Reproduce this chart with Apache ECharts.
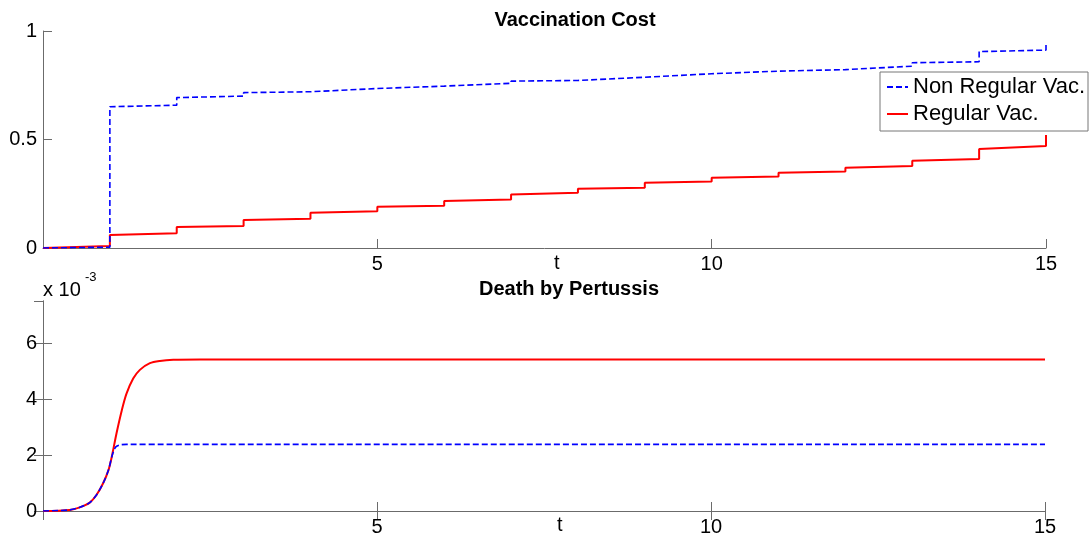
<!DOCTYPE html>
<html>
<head>
<meta charset="utf-8">
<script src="https://cdn.jsdelivr.net/npm/echarts@6/dist/echarts.min.js"></script>
<style>
  html, body { margin: 0; padding: 0; background: #fff; }
  #chart { width: 1090px; height: 542px; }
</style>
</head>
<body>
<div id="chart"></div>
<script>
// vaccination cost: value just before / just after the yearly jump at t = 1..15
var years = [1, 2, 3, 4, 5, 6, 7, 8, 9, 10, 11, 12, 13, 14, 15]
var nonRegBefore = [0.004, 0.658, 0.700, 0.720, 0.735, 0.746, 0.759, 0.772, 0.787, 0.803, 0.815, 0.822, 0.838, 0.858, 0.912]
var nonRegAfter = [0.651, 0.693, 0.716, 0.728, 0.740, 0.751, 0.769, 0.779, 0.795, 0.811, 0.820, 0.830, 0.854, 0.905, 0.943]
var regBefore = [0.009, 0.068, 0.101, 0.135, 0.169, 0.195, 0.223, 0.255, 0.278, 0.306, 0.329, 0.352, 0.378, 0.410, 0.470]
var regAfter = [0.060, 0.097, 0.129, 0.163, 0.190, 0.217, 0.247, 0.273, 0.301, 0.324, 0.347, 0.370, 0.402, 0.456, 0.521]

// death by pertussis (x 10^-3)
var tReg = [0, 0.40, 0.55, 0.70, 0.80, 0.90, 0.98, 1.03, 1.10, 1.18, 1.25, 1.35, 1.45, 1.60, 1.75, 1.95, 2.35, 15]
var deathReg = [0, 0.04, 0.13, 0.30, 0.57, 0.99, 1.46, 1.94, 2.77, 3.60, 4.19, 4.73, 5.04, 5.28, 5.36, 5.40, 5.41, 5.41]
var tNonReg = [0, 0.40, 0.55, 0.70, 0.80, 0.90, 0.98, 1.03, 1.06, 1.09, 1.15, 1.25, 15]
var deathNonReg = [0, 0.04, 0.13, 0.30, 0.57, 0.99, 1.46, 1.94, 2.15, 2.29, 2.36, 2.38, 2.38]

var axisColor = '#6b6b6b'
var font = 'Liberation Sans, Arial, Helvetica, sans-serif'

function steps (before, after) {
  var out = [[0, 0]]
  for (let i = 0; i < years.length; i++) {
    out.push([years[i], before[i]])
    out.push([years[i], after[i]])
  }
  return out
}

function pairs (xs, ys) {
  let out = []
  for (let i = 0; i < xs.length; i++) {
    out.push([xs[i], ys[i]])
  }
  return out
}

function xAx (grid, pos, labels) {
  return {
    type: 'value',
    gridIndex: grid,
    position: pos,
    min: 0,
    max: 15,
    interval: 5,
    axisLine: { show: true, lineStyle: { color: axisColor, width: 1 } },
    axisTick: { show: true, inside: true, length: 9, lineStyle: { color: axisColor } },
    axisLabel: { show: labels, showMinLabel: false, color: '#000', fontSize: 20, fontFamily: font, margin: 6 },
    splitLine: { show: false }
  }
}

var myChart = echarts.init(document.getElementById('chart'))

var options = {
  animation: false,
  title: [
    { text: 'Vaccination Cost', left: 570, top: 5, textAlign: 'center',
      textStyle: { fontSize: 20, fontWeight: 'bold', color: '#000', fontFamily: font } },
    { text: 'Death by Pertussis', left: 564, top: 274, textAlign: 'center',
      textStyle: { fontSize: 20, fontWeight: 'bold', color: '#000', fontFamily: font } }
  ],
  legend: {
    data: ['Non Regular Vac.', 'Regular Vac.'],
    orient: 'vertical',
    left: 880,
    top: 72,
    padding: [4, 3, 6, 6],
    itemGap: 5,
    itemWidth: 21,
    itemHeight: 12,
    backgroundColor: '#fff',
    borderColor: '#777',
    borderWidth: 1,
    itemStyle: { opacity: 0 },
    textStyle: { fontSize: 22, color: '#000', fontFamily: font }
  },
  grid: [
    { left: 43, right: 44, top: 31, height: 217 },
    { left: 43, right: 45, top: 301, height: 210 }
  ],
  xAxis: [
    xAx(0, 'bottom', true),
    xAx(1, 'bottom', true),
    xAx(1, 'top', false)
  ],
  yAxis: [
    {
      type: 'value', gridIndex: 0, position: 'left', min: 0, max: 1, interval: 0.5,
      axisLine: { show: true, lineStyle: { color: axisColor } },
      axisTick: { show: true, inside: true, length: 9, lineStyle: { color: axisColor } },
      axisLabel: { color: '#000', fontSize: 20, fontFamily: font, margin: 6 },
      splitLine: { show: false }
    },
    {
      type: 'value', gridIndex: 1, position: 'left', min: 0, max: 7.5, interval: 2,
      axisLine: { show: true, lineStyle: { color: axisColor } },
      axisTick: { show: true, inside: true, length: 9, lineStyle: { color: axisColor } },
      axisLabel: { color: '#000', fontSize: 20, fontFamily: font, margin: 6, showMaxLabel: false },
      splitLine: { show: false }
    },
    {
      type: 'value', gridIndex: 1, position: 'right', min: 0, max: 7.5, interval: 2,
      axisLine: { show: true, lineStyle: { color: axisColor } },
      axisTick: { show: true, inside: true, length: 9, lineStyle: { color: axisColor } },
      axisLabel: { show: false },
      splitLine: { show: false }
    }
  ],
  graphic: [
    { type: 'text', left: 554, top: 253, style: { text: 't', fontSize: 20, fontFamily: font, fill: '#000' } },
    { type: 'text', left: 557, top: 515, style: { text: 't', fontSize: 20, fontFamily: font, fill: '#000' } },
    { type: 'text', left: 43, top: 280, style: { text: 'x 10', fontSize: 20, fontFamily: font, fill: '#000' } },
    { type: 'text', left: 85, top: 271, style: { text: '-3', fontSize: 13, fontFamily: font, fill: '#000' } }
  ],
  series: [
    {
      name: 'Non Regular Vac.', type: 'line', xAxisIndex: 0, yAxisIndex: 0,
      symbol: 'none', z: 3,
      lineStyle: { color: '#0000ff', width: 1.6, type: [6, 3] },
      itemStyle: { color: '#0000ff' },
      data: steps(nonRegBefore, nonRegAfter)
    },
    {
      name: 'Regular Vac.', type: 'line', xAxisIndex: 0, yAxisIndex: 0,
      symbol: 'none', z: 2,
      lineStyle: { color: '#ff0000', width: 2 },
      itemStyle: { color: '#ff0000' },
      data: steps(regBefore, regAfter)
    },
    {
      name: 'Regular Vac.', type: 'line', xAxisIndex: 1, yAxisIndex: 1,
      symbol: 'none', smooth: 0.3, z: 2,
      lineStyle: { color: '#ff0000', width: 2 },
      itemStyle: { color: '#ff0000' },
      data: pairs(tReg, deathReg)
    },
    {
      name: 'Non Regular Vac.', type: 'line', xAxisIndex: 1, yAxisIndex: 1,
      symbol: 'none', smooth: 0.3, z: 3,
      lineStyle: { color: '#0000ff', width: 1.6, type: [6, 3] },
      itemStyle: { color: '#0000ff' },
      data: pairs(tNonReg, deathNonReg)
    }
  ]
}

myChart.setOption(options)
</script>
</body>
</html>
